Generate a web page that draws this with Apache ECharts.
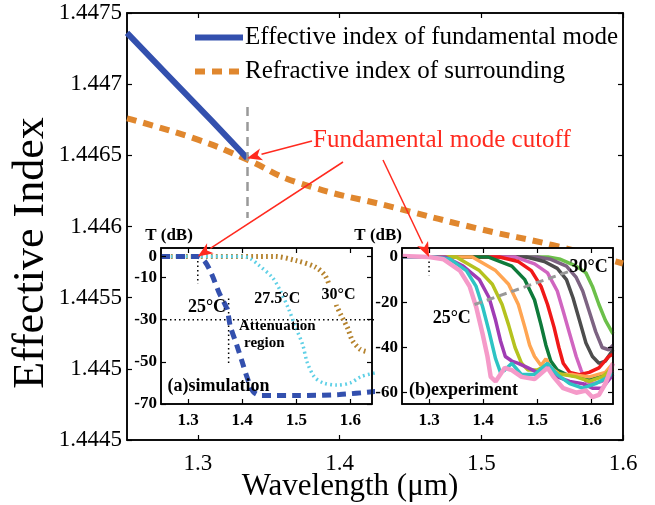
<!DOCTYPE html>
<html>
<head>
<meta charset="utf-8">
<script src="https://cdn.jsdelivr.net/npm/echarts@6/dist/echarts.min.js"></script>
<style>
html, body { margin: 0; padding: 0; background: #fff; }
#chart { width: 655px; height: 505px; }
</style>
</head>
<body>
<div id="chart"></div>
<script>
// ---- main panel data ----
const wlTicks = [1.3, 1.4, 1.5, 1.6];
const fundLam = [1.25, 1.28, 1.31, 1.3347];
const fundIdx = [1.44736, 1.44705, 1.44674, 1.44648];
const surLam = [1.25, 1.30, 1.3347, 1.37, 1.44, 1.50, 1.55, 1.60];
const surIdx = [1.44676, 1.44661, 1.44647, 1.44631, 1.44613, 1.44598, 1.44587, 1.44574];
const cutoffLam = 1.3347;
const cutoffSpan = [1.44684, 1.44606];

// ---- inset (a) simulation, [wavelength, dB] ----
const simTicksY = [0, -10, -30, -50, -70];
const sim25 = [[1.25,0],[1.318,0],[1.33,-2],[1.343,-8],[1.357,-17],[1.372,-25],[1.378,-33],[1.39,-42],[1.40,-50],[1.41,-58],[1.42,-64],[1.435,-66],[1.50,-66],[1.58,-65.5],[1.65,-64]];
const sim275 = [[1.25,0],[1.40,0],[1.415,-1],[1.43,-4],[1.456,-10],[1.47,-16],[1.486,-25],[1.498,-33],[1.512,-42],[1.52,-50],[1.533,-57],[1.55,-60],[1.575,-61],[1.60,-60],[1.62,-57],[1.65,-55]];
const sim30 = [[1.25,0],[1.46,0],[1.50,-2],[1.535,-5],[1.553,-9],[1.563,-15],[1.574,-23],[1.583,-28],[1.595,-34],[1.604,-40],[1.618,-44],[1.628,-45]];
const attenH = [[1.25,-30],[1.65,-30]];
const cutV1 = [[1.318,0],[1.318,-13]];
const cutV2 = [[1.375,-20],[1.375,-51]];

// ---- inset (b) experiment, [wavelength, dB] ----
const expTicksY = [0, -20, -40, -60];
const expColors = ['#f59ac9','#2ec4c4','#a03cb4','#b5c21f','#ffa552','#0e7a3a','#f01818','#d065c0','#4d4d4d','#7d6382','#6cc04a'];
const exp1 = [[1.25,0.5],[1.30,0],[1.327,-1],[1.357,-6],[1.375,-13],[1.387,-22],[1.399,-34],[1.408,-44],[1.414,-53],[1.423,-55],[1.44,-49],[1.453,-50],[1.471,-53],[1.495,-54],[1.519,-49],[1.53,-53],[1.548,-58],[1.572,-60],[1.59,-59],[1.602,-62],[1.614,-61],[1.626,-56],[1.64,-47]];
const exp2 = [[1.25,0],[1.31,0],[1.339,-1],[1.369,-6],[1.387,-13],[1.399,-22],[1.411,-33],[1.423,-45],[1.432,-51],[1.44,-50],[1.453,-47],[1.471,-52],[1.495,-52],[1.519,-47],[1.537,-52],[1.56,-56],[1.584,-58],[1.608,-56],[1.632,-53],[1.64,-51]];
const exp3 = [[1.25,0],[1.33,0],[1.363,-4],[1.393,-10],[1.411,-18],[1.423,-28],[1.432,-37],[1.441,-44],[1.453,-46],[1.465,-47],[1.483,-49],[1.50,-51],[1.519,-48],[1.537,-53],[1.56,-55],[1.584,-56],[1.602,-58],[1.62,-58],[1.64,-52]];
const exp4 = [[1.25,0],[1.35,0],[1.393,-6],[1.417,-12],[1.435,-21],[1.447,-30],[1.459,-40],[1.471,-47],[1.483,-50],[1.50,-50],[1.516,-48],[1.531,-51],[1.548,-52],[1.572,-53],[1.596,-55],[1.62,-53],[1.64,-49]];
const exp5 = [[1.25,0],[1.38,0],[1.423,-6],[1.447,-12],[1.465,-21],[1.477,-31],[1.486,-39],[1.495,-44],[1.507,-48],[1.516,-45],[1.525,-49],[1.543,-52],[1.566,-52],[1.596,-53],[1.626,-51],[1.64,-47]];
const exp6 = [[1.25,0],[1.41,0],[1.453,-4],[1.477,-10],[1.495,-19],[1.507,-30],[1.516,-39],[1.525,-46],[1.537,-50],[1.554,-52],[1.578,-53],[1.602,-54],[1.626,-52],[1.64,-49]];
const exp7 = [[1.25,0],[1.43,0],[1.465,-2],[1.489,-6],[1.507,-13],[1.519,-21],[1.531,-31],[1.54,-40],[1.548,-47],[1.56,-51],[1.578,-52],[1.596,-51],[1.614,-49],[1.632,-44],[1.64,-43]];
const exp8 = [[1.25,0],[1.46,0],[1.495,-3],[1.519,-7],[1.537,-15],[1.548,-24],[1.56,-34],[1.572,-44],[1.581,-50],[1.59,-55],[1.602,-56],[1.62,-55],[1.64,-50]];
const exp9 = [[1.25,0],[1.48,0],[1.513,-2],[1.537,-5],[1.554,-10],[1.566,-18],[1.578,-28],[1.59,-38],[1.602,-44],[1.614,-47],[1.626,-46],[1.64,-41]];
const exp10 = [[1.25,0],[1.50,0],[1.525,-1],[1.554,-4],[1.572,-9],[1.584,-15],[1.596,-24],[1.608,-33],[1.62,-40],[1.632,-41],[1.64,-39]];
const exp11 = [[1.25,0],[1.52,0],[1.543,-1],[1.572,-4],[1.59,-7],[1.602,-13],[1.614,-21],[1.626,-28],[1.64,-34]];
const expMarker = [[1.3,0],[1.3,-8]];
const tempArrow = [[1.384,-21],[1.563,-6]];

const SERIF = '"Liberation Serif", "Times New Roman", serif';

function zip(a, b) {
  return a.map((v, i) => [v, b[i]]);
}

function xAx(grid, pos, min, max, label, size, z) {
  return {
    type: 'value', gridIndex: grid, position: pos, min: min, max: max, z: z,
    axisLine: { show: true, onZero: false, lineStyle: { color: '#000', width: 1.5 } },
    axisTick: { show: true, inside: true, length: 5, customValues: wlTicks, lineStyle: { color: '#000', width: 1.2 } },
    axisLabel: { show: label, customValues: wlTicks, color: '#000', fontFamily: SERIF, fontSize: size,
      fontWeight: grid ? 'bold' : 'normal', margin: grid ? 8 : 12 },
    splitLine: { show: false }
  };
}

function yAx(grid, pos, min, max, ticks, label, size, z) {
  return {
    type: 'value', gridIndex: grid, position: pos, min: min, max: max, z: z,
    axisLine: { show: true, onZero: false, lineStyle: { color: '#000', width: 1.5 } },
    axisTick: { show: true, inside: true, length: 5, customValues: ticks, lineStyle: { color: '#000', width: 1.2 } },
    axisLabel: { show: label, customValues: ticks, color: '#000', fontFamily: SERIF, fontSize: size,
      fontWeight: grid ? 'bold' : 'normal', margin: grid ? 4 : 5,
      formatter: v => String(+v.toFixed(4)) },
    splitLine: { show: false }
  };
}

const chart = echarts.init(document.getElementById('chart'));

const mainY = yAx(0, 'left', 1.4445, 1.4475, null, true, 23, 0);
delete mainY.axisTick.customValues;
delete mainY.axisLabel.customValues;
mainY.interval = 0.0005;
const mainY2 = yAx(0, 'right', 1.4445, 1.4475, null, false, 23, 0);
delete mainY2.axisTick.customValues;
mainY2.interval = 0.0005;

const insetBox = { show: true, backgroundColor: '#fff', borderColor: '#000', borderWidth: 1.5, z: 10 };

function expLine(data, i) {
  return {
    type: 'line', xAxisIndex: 4, yAxisIndex: 4, data: data, showSymbol: false, symbol: 'none', z: 11,
    lineStyle: { color: expColors[i], width: i === 0 ? 4.5 : 3.5 }
  };
}

const option = {
  backgroundColor: '#fff',
  animation: false,
  grid: [
    { left: 127, top: 13, width: 496, height: 427, show: true, borderColor: '#000', borderWidth: 1.5 },
    Object.assign({ left: 161, top: 248, width: 211, height: 156 }, insetBox),
    Object.assign({ left: 402, top: 248, width: 211, height: 156 }, insetBox)
  ],
  xAxis: [
    xAx(0, 'bottom', 1.25, 1.6, true, 23, 0), xAx(0, 'top', 1.25, 1.6, false, 23, 0),
    xAx(1, 'bottom', 1.25, 1.64, true, 17, 12), xAx(1, 'top', 1.25, 1.64, false, 17, 12),
    xAx(2, 'bottom', 1.25, 1.64, true, 17, 12), xAx(2, 'top', 1.25, 1.64, false, 17, 12)
  ],
  yAxis: [
    mainY, mainY2,
    yAx(1, 'left', -70, 4, simTicksY, true, 17, 12), yAx(1, 'right', -70, 4, simTicksY, false, 17, 12),
    yAx(2, 'left', -65, 4, expTicksY, true, 17, 12), yAx(2, 'right', -65, 4, expTicksY, false, 17, 12)
  ],
  legend: {
    orient: 'vertical', left: 192, top: 25, padding: 0, itemWidth: 48, itemHeight: 14, itemGap: 9,
    itemStyle: { opacity: 0 },
    lineStyle: { width: 6 },
    textStyle: { fontFamily: SERIF, fontSize: 25, color: '#000', padding: [0, 0, 0, -3] },
    data: ['Effective index of fundamental mode', 'Refractive index of surrounding']
  },
  series: [
    {
      name: 'Effective index of fundamental mode', type: 'line', xAxisIndex: 0, yAxisIndex: 0,
      data: zip(fundLam, fundIdx), showSymbol: false, symbol: 'none', z: 3,
      lineStyle: { color: '#3350ae', width: 6 },
      markLine: {
        silent: true, symbol: 'none', label: { show: false },
        lineStyle: { color: '#999', type: [9, 6], width: 2.5 },
        data: [[{ coord: [cutoffLam, cutoffSpan[0]] }, { coord: [cutoffLam, cutoffSpan[1]] }]]
      }
    },
    {
      name: 'Refractive index of surrounding', type: 'line', xAxisIndex: 0, yAxisIndex: 0,
      data: zip(surLam, surIdx), showSymbol: false, symbol: 'none', z: 2, smooth: true,
      lineStyle: { color: '#e0872e', width: 6, type: [10, 7] }
    },
    // inset (a)
    { type: 'line', xAxisIndex: 2, yAxisIndex: 2, data: attenH, symbol: 'none', z: 11,
      lineStyle: { color: '#000', width: 1.5, type: [1.5, 3] } },
    { type: 'line', xAxisIndex: 2, yAxisIndex: 2, data: cutV1, symbol: 'none', z: 11,
      lineStyle: { color: '#000', width: 1.5, type: [1.5, 3] } },
    { type: 'line', xAxisIndex: 2, yAxisIndex: 2, data: cutV2, symbol: 'none', z: 11,
      lineStyle: { color: '#000', width: 1.5, type: [1.5, 3] } },
    { type: 'line', xAxisIndex: 2, yAxisIndex: 2, data: sim30, symbol: 'none', z: 11, smooth: 0.3,
      lineStyle: { color: '#b5832e', width: 5, type: [1.8, 3.2] } },
    { type: 'line', xAxisIndex: 2, yAxisIndex: 2, data: sim275, symbol: 'none', z: 11, smooth: 0.3,
      lineStyle: { color: '#5fd0e6', width: 3.5, type: [1.8, 3.2] } },
    { type: 'line', xAxisIndex: 2, yAxisIndex: 2, data: sim25, symbol: 'none', z: 11, smooth: 0.3,
      lineStyle: { color: '#3350ae', width: 5, type: [9, 6] } },
    // inset (b)
    { type: 'line', xAxisIndex: 4, yAxisIndex: 4, data: expMarker, symbol: 'none', z: 11,
      lineStyle: { color: '#000', width: 1.5, type: [1.5, 3] } },
    expLine(exp11, 10), expLine(exp10, 9), expLine(exp9, 8), expLine(exp8, 7), expLine(exp7, 6),
    expLine(exp6, 5), expLine(exp5, 4), expLine(exp4, 3), expLine(exp3, 2), expLine(exp2, 1), expLine(exp1, 0),
    {
      type: 'line', xAxisIndex: 4, yAxisIndex: 4, data: tempArrow, symbol: 'none', z: 13,
      lineStyle: { color: '#999', type: [8, 5], width: 3 },
      markLine: {
        silent: true, symbol: ['none', 'arrow'], symbolSize: 13, label: { show: false },
        lineStyle: { color: '#999', type: [8, 5], width: 3 },
        data: [[{ coord: tempArrow[0] }, { coord: tempArrow[1] }]]
      }
    }
  ]
};

chart.setOption(option);

// annotations placed in data units of each panel
const simNotes = [
  { t: '25°C', at: [1.335, -24] },
  { t: '27.5°C', at: [1.465, -20], s: 16 },
  { t: '30°C', at: [1.578, -18], bg: true, s: 16 },
  { t: 'Attenuation', at: [1.465, -33], s: 15 },
  { t: 'region', at: [1.441, -41], s: 15 },
  { t: '(a)simulation', at: [1.262, -61.5], left: true }
];
const expNotes = [
  { t: '30°C', at: [1.595, -4.5] },
  { t: '25°C', at: [1.342, -27] },
  { t: '(b)experiment', at: [1.263, -59], left: true }
];

const px = (g, p) => chart.convertToPixel({ gridIndex: g }, p);
const RED = '#ff2a1f';

function note(g, n) {
  const p = px(g, n.at);
  return {
    type: 'text', x: p[0], y: p[1], z: 20,
    style: {
      text: n.t, font: 'bold ' + (n.s || 18) + 'px ' + SERIF, fill: '#000',
      align: n.left ? 'left' : 'center', verticalAlign: 'middle',
      backgroundColor: n.bg ? '#fff' : null, padding: n.bg ? [2, 1] : 0
    }
  };
}

function arrow(from, to) {
  const dx = to[0] - from[0], dy = to[1] - from[1];
  const len = Math.sqrt(dx * dx + dy * dy);
  const ux = dx / len, uy = dy / len;
  const bx = to[0] - ux * 15, by = to[1] - uy * 15;
  return [
    { type: 'line', z: 30, shape: { x1: from[0], y1: from[1], x2: bx, y2: by }, style: { stroke: RED, lineWidth: 1.5 } },
    { type: 'polygon', z: 30, shape: { points: [to, [bx - uy * 6, by + ux * 6], [bx + ux * 4, by + uy * 4], [bx + uy * 6, by - ux * 6]] },
      style: { fill: RED } }
  ];
}

const cornerA = px(1, [1.25, 4]);
const cornerB = px(2, [1.25, 4]);

const graphic = []
  .concat(simNotes.map(n => note(1, n)))
  .concat(expNotes.map(n => note(2, n)))
  .concat([
    { type: 'text', x: cornerA[0] + 8, y: cornerA[1] - 12, z: 20,
      style: { text: 'T (dB)', font: 'bold 17px ' + SERIF, fill: '#000', align: 'center', verticalAlign: 'middle' } },
    { type: 'text', x: cornerB[0], y: cornerB[1] - 12, z: 20,
      style: { text: 'T (dB)', font: 'bold 17px ' + SERIF, fill: '#000', align: 'right', verticalAlign: 'middle' } },
    { type: 'text', x: 313, y: 140, z: 30,
      style: { text: 'Fundamental mode cutoff', font: '25px ' + SERIF, fill: RED, align: 'left', verticalAlign: 'middle' } },
    // axis titles
    { type: 'text', x: 31, y: 253, rotation: Math.PI / 2, z: 5,
      style: { text: 'Effective Index', font: '44px ' + SERIF, fill: '#000', align: 'center', verticalAlign: 'middle' } },
    { type: 'text', x: 350, y: 487, z: 5,
      style: { text: 'Wavelength (μm)', font: '31px ' + SERIF, fill: '#000', align: 'center', verticalAlign: 'middle' } }
  ])
  .concat(arrow([312, 141], px(0, [cutoffLam, fundIdx[fundIdx.length - 1]])))
  .concat(arrow([343, 162], px(1, cutV1[0])))
  .concat(arrow([383, 160], px(2, expMarker[0])));

chart.setOption({ graphic: graphic });
</script>
</body>
</html>
